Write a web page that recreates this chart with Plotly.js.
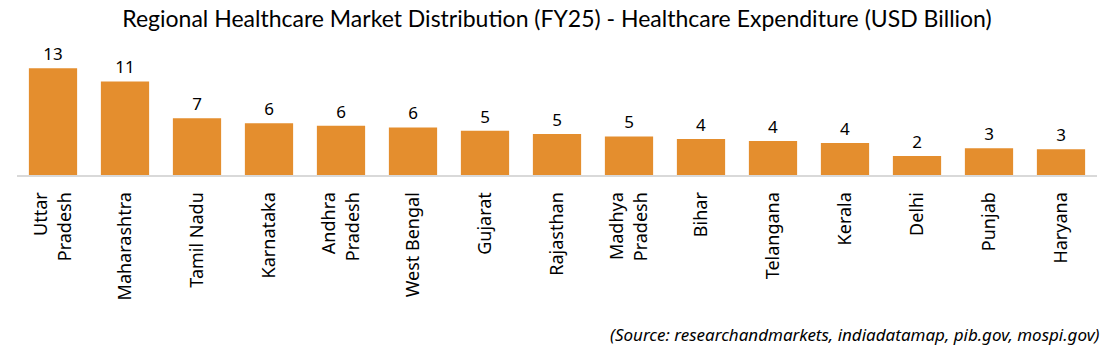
<!DOCTYPE html>
<html>
<head>
<meta charset="utf-8">
<script src="https://cdn.plot.ly/plotly-3.0.1.min.js"></script>
<style>html,body{margin:0;padding:0;background:#fff;}#chart{width:1114px;height:355px;}</style>
</head>
<body>
<div id="chart"></div>
<script>
const categories = ["Uttar<br>Pradesh", "Maharashtra", "Tamil Nadu", "Karnataka", "Andhra<br>Pradesh", "West Bengal", "Gujarat", "Rajasthan", "Madhya<br>Pradesh", "Bihar", "Telangana", "Kerala", "Delhi", "Punjab", "Haryana"];
const expenditure = [13.0, 11.4, 6.9, 6.3, 6.0, 5.8, 5.4, 5.0, 4.7, 4.4, 4.15, 3.9, 2.3, 3.25, 3.15];
const chartTitle = "Regional Healthcare Market Distribution (FY25) - Healthcare Expenditure (USD Billion)";
const sourceNote = "(Source: researchandmarkets, indiadatamap, pib.gov, mospi.gov)";

const trace = {
  type: "bar",
  x: categories,
  y: expenditure,
  marker: {color: "#E48E2E"},
  texttemplate: "%{y:.0f}",
  textposition: "outside",
  cliponaxis: false,
  textfont: {family: "Noto Sans", size: 17, color: "#000"},
  hoverinfo: "x+y"
};

const layout = {
  width: 1114, height: 355,
  margin: {l: 17, r: 17, t: 40, b: 180},
  paper_bgcolor: "#fff", plot_bgcolor: "#fff",
  bargap: 0.33,
  showlegend: false,
  title: {text: chartTitle, x: 0.5, xanchor: "center", yref: "container", y: 0.948, yanchor: "middle", font: {family: "Lato", size: 23, color: "#000"}},
  xaxis: {
    tickangle: -90,
    tickfont: {family: "Noto Sans", size: 18, color: "#000"},
    ticklabelstandoff: 8,
    showline: true, linecolor: "#D9D9D9", linewidth: 2,
    ticks: "", showgrid: false, zeroline: false, automargin: false
  },
  yaxis: {range: [0, 16.45], visible: false, showgrid: false, zeroline: false},
  annotations: [{
    text: sourceNote, xref: "paper", yref: "paper", x: 1.005, y: -1.185,
    xanchor: "right", yanchor: "middle", showarrow: false,
    font: {family: "Noto Sans", size: 17, color: "#000", style: "italic"}
  }]
};

Plotly.newPlot("chart", [trace], layout, {displayModeBar: false, staticPlot: true});
</script>
</body>
</html>
